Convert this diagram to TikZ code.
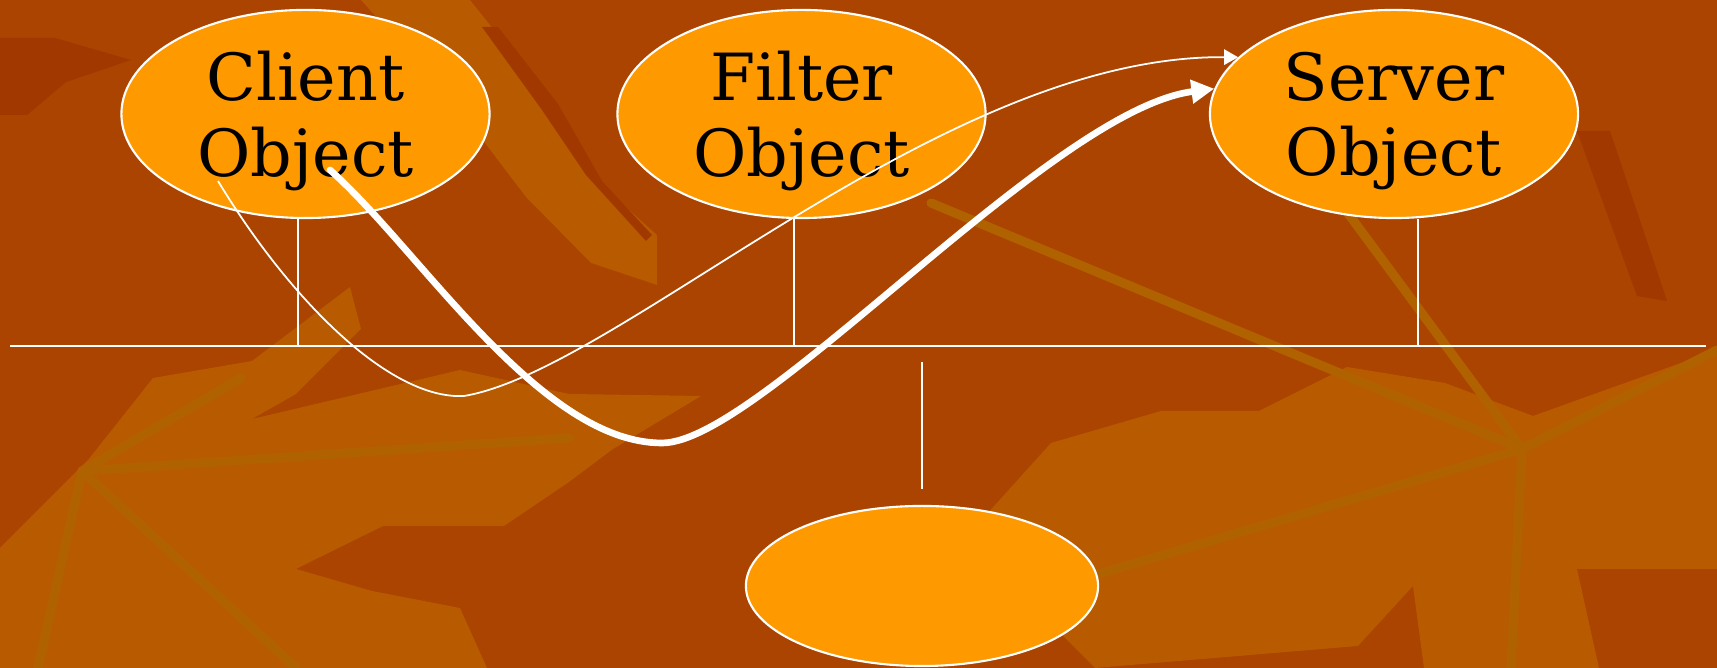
\documentclass[tikz,border=0pt]{standalone}
\usepackage{fontspec}
\setmainfont{DejaVu Serif}
\usetikzlibrary{shapes.geometric,arrows.meta}
\definecolor{bgdark}{RGB}{170,68,0}
\definecolor{bgdeep}{RGB}{160,56,0}
\definecolor{bgleaf}{RGB}{184,90,0}
\definecolor{bgvein}{RGB}{176,98,0}
\definecolor{objfill}{RGB}{255,153,0}
\begin{document}
\begin{tikzpicture}[x=0.01cm, y=-0.01cm,
  every node/.style={font=\fontsize{18.5}{21.5}\selectfont},
  obj/.style={ellipse, draw=white, line width=0.6pt, fill=objfill, inner sep=0pt, align=center, text depth=0pt},
  tap/.style={draw=white, line width=0.4pt},
  vein/.style={draw=bgvein, line width=2.6pt, line cap=round}]
\fill[bgdark] (0,0) rectangle (1717,668);
\useasboundingbox (0,0) rectangle (1717,668);
\fill[bgleaf] (0,548) -- (88,460) -- (153,378) -- (252,361) -- (350,287) -- (361,329) -- (296,394) -- (252,419) -- (460,370) -- (569,394) -- (701,396) -- (613,449) -- (569,482) -- (504,526) -- (383,526) -- (296,569) -- (372,591) -- (460,608) -- (487,668) -- (0,668) -- cycle;
\fill[bgleaf] (986,515) -- (1051,443) -- (1161,411) -- (1259,411) -- (1347,367) -- (1445,383) -- (1533,416) -- (1717,350) -- (1717,569) -- (1577,569) -- (1599,668) -- (1424,668) -- (1413,586) -- (1358,646) -- (1095,668) -- (1040,613) -- cycle;
\fill[bgleaf] (361,0) -- (470,0) -- (548,98) -- (602,186) -- (657,235) -- (657,285) -- (591,263) -- (526,197) -- (460,110) -- cycle;
\fill[bgdeep] (1577,131) -- (1610,131) -- (1667,301) -- (1637,296) -- cycle;
\fill[bgdeep] (482,27) -- (498,27) -- (558,104) -- (602,181) -- (652,235) -- (646,241) -- (586,175) -- (542,110) -- cycle;
\fill[bgdeep] (0,38) -- (55,38) -- (131,60) -- (66,82) -- (27,115) -- (0,115) -- cycle;
\draw[vein] (82,471) -- (569,438);
\draw[vein] (82,471) -- (296,668);
\draw[vein] (82,471) -- (38,668);
\draw[vein] (82,471) -- (241,378);
\draw[vein] (1522,449) -- (1095,575);
\draw[vein] (1522,449) -- (1717,350);
\draw[vein] (1522,449) -- (1511,668);
\draw[vein] (1522,449) -- (1336,197);
\draw[vein] (1522,449) -- (931,203);

\node[obj, minimum width=3.68cm, minimum height=2.08cm] (client) at (305.5,114) {Client\\Object};
\node[obj, minimum width=3.68cm, minimum height=2.08cm] (filter) at (801.5,114) {Filter\\Object};
\node[obj, minimum width=3.68cm, minimum height=2.08cm] (server) at (1394,114) {Server\\Object};
\node[obj, minimum width=3.52cm, minimum height=1.60cm] (store) at (922,586) {};

\coordinate (busL) at (10,346);
\coordinate (busR) at (1706,346);
\coordinate (tapC) at (298,346);
\coordinate (tapF) at (794,346);
\coordinate (tapS) at (1418,346);
\coordinate (dropT) at (922,362);
\coordinate (dropB) at (922,489);
\draw[white, line width=0.6pt] (busL) -- (busR);
\draw[tap] (client.south -| tapC) -- (tapC);
\draw[tap] (filter.south -| tapF) -- (tapF);
\draw[tap] (server.south -| tapS) -- (tapS);
\draw[tap] (dropT) -- (dropB);

\coordinate (thinStart) at (218,181);
\coordinate (thickStart) at (330,170);
\draw[white, line width=0.5pt, -{Triangle[length=4pt, width=4.4pt]}] (thinStart) .. controls (290,300) and (390,400) .. (464,396) .. controls (620,370) and (940,55) .. (server.160);
\draw[white, line width=1.9pt, line cap=round, -{Triangle[length=6.5pt, width=6.5pt]}] (thickStart) .. controls (420,250) and (540,443) .. (662,443) .. controls (760,443) and (1050,110) .. (server.172);
\end{tikzpicture}
\end{document}
